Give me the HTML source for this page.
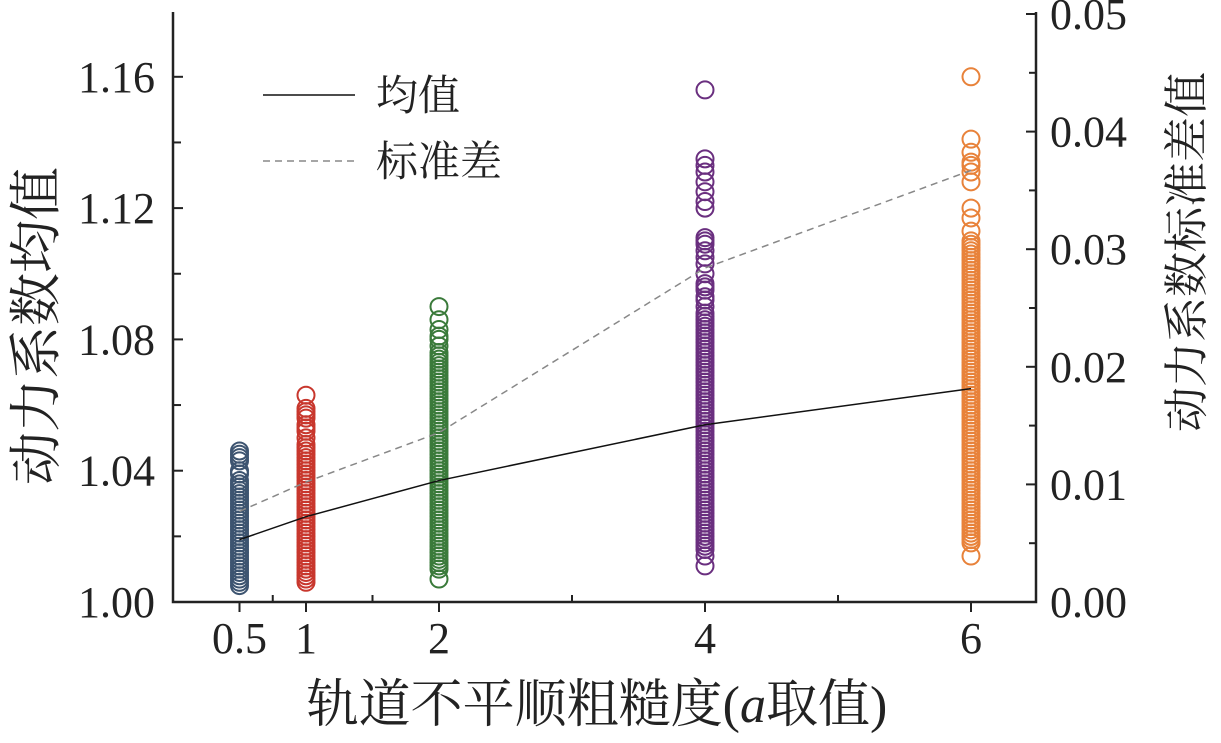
<!DOCTYPE html>
<html><head><meta charset="utf-8"><style>
html,body{margin:0;padding:0;background:#fff;}
svg text{font-family:"Liberation Serif","Noto Serif CJK SC",serif;fill:#222;}
</style></head><body>
<svg id="chart" width="1221" height="738" xmlns="http://www.w3.org/2000/svg">
<g id="marks"></g>
<g id="lines"></g>
<g id="axes"></g>
<g>
<line x1="263" y1="95" x2="355" y2="95" stroke="#111" stroke-width="1.5"/>
<text x="376" y="110" font-size="42">均值</text>
<line x1="263" y1="161" x2="355" y2="161" stroke="#888" stroke-width="1.5" stroke-dasharray="7,5"/>
<text x="376" y="176" font-size="42">标准差</text>
</g>
<text x="597" y="722" font-size="52" text-anchor="middle">轨道不平顺粗糙度(<tspan font-style="italic">a</tspan>取值)</text>
<text transform="translate(54,326) rotate(-90)" font-size="53" text-anchor="middle">动力系数均值</text>
<text transform="translate(1202,252) rotate(-90)" font-size="45" text-anchor="middle">动力系数标准差值</text>
</svg>
<script>
const categories=[0.5,1,2,4,6];
const colors=["#3d5470","#c8372d","#3a7a3a","#6a2f7f","#e8823a"];
const meanValues=[1.019,1.026,1.037,1.054,1.065];
const stdValues=[0.0077,0.0102,0.0144,0.0284,0.0367];
const xTicksMajor=[0.5,1,2,4,6];
const xTicksMinor=[0.75,1.5,3,5];
const yLeftTicks=[1.00,1.04,1.08,1.12,1.16];
const yLeftMinor=[1.02,1.06,1.10,1.14];
const yRightTicks=[0.00,0.01,0.02,0.03,0.04,0.05];
const yRightMinor=[0.005,0.015,0.025,0.035,0.045];
const g05=[1.005,1.006,1.007,1.008,1.009,1.010,1.011,1.012,1.013,1.014,1.015,1.016,1.017,1.018,1.019,1.020,1.021,1.022,1.023,1.024,1.025,1.026,1.027,1.028,1.029,1.030,1.031,1.032,1.033,1.034,1.035,1.036,1.037,1.039,1.040,1.043,1.044,1.045,1.046];
const g1=[1.006,1.007,1.008,1.009,1.010,1.011,1.012,1.013,1.014,1.015,1.016,1.017,1.018,1.019,1.020,1.021,1.022,1.023,1.024,1.025,1.026,1.027,1.028,1.029,1.030,1.031,1.032,1.033,1.034,1.035,1.036,1.037,1.038,1.039,1.040,1.041,1.042,1.043,1.044,1.045,1.046,1.047,1.048,1.050,1.052,1.053,1.054,1.056,1.057,1.058,1.059,1.063];
const g2=[1.007,1.010,1.011,1.012,1.013,1.014,1.015,1.016,1.017,1.018,1.019,1.020,1.021,1.022,1.023,1.024,1.025,1.026,1.027,1.028,1.029,1.030,1.031,1.032,1.033,1.034,1.035,1.036,1.037,1.038,1.039,1.040,1.041,1.042,1.043,1.044,1.045,1.046,1.047,1.048,1.049,1.050,1.051,1.052,1.053,1.054,1.055,1.056,1.057,1.058,1.059,1.060,1.061,1.062,1.063,1.064,1.065,1.066,1.067,1.068,1.069,1.070,1.071,1.072,1.073,1.074,1.075,1.076,1.078,1.080,1.081,1.083,1.086,1.090];
const g4=[1.011,1.014,1.016,1.017,1.018,1.019,1.020,1.021,1.022,1.023,1.024,1.025,1.026,1.027,1.028,1.029,1.030,1.031,1.032,1.033,1.034,1.035,1.036,1.037,1.038,1.039,1.040,1.041,1.042,1.043,1.044,1.045,1.046,1.047,1.048,1.049,1.050,1.051,1.052,1.053,1.054,1.055,1.056,1.057,1.058,1.059,1.060,1.061,1.062,1.063,1.064,1.065,1.066,1.067,1.068,1.069,1.070,1.071,1.072,1.073,1.074,1.075,1.076,1.077,1.078,1.079,1.080,1.081,1.082,1.083,1.084,1.085,1.086,1.087,1.088,1.090,1.092,1.093,1.095,1.096,1.097,1.100,1.103,1.105,1.107,1.109,1.110,1.111,1.120,1.122,1.125,1.128,1.131,1.133,1.135,1.156];
const g6=[1.014,1.018,1.019,1.020,1.021,1.022,1.023,1.024,1.025,1.026,1.027,1.028,1.029,1.030,1.031,1.032,1.033,1.034,1.035,1.036,1.037,1.038,1.039,1.040,1.041,1.042,1.043,1.044,1.045,1.046,1.047,1.048,1.049,1.050,1.051,1.052,1.053,1.054,1.055,1.056,1.057,1.058,1.059,1.060,1.061,1.062,1.063,1.064,1.065,1.066,1.067,1.068,1.069,1.070,1.071,1.072,1.073,1.074,1.075,1.076,1.077,1.078,1.079,1.080,1.081,1.082,1.083,1.084,1.085,1.086,1.087,1.088,1.089,1.090,1.091,1.092,1.093,1.094,1.095,1.096,1.097,1.098,1.099,1.100,1.101,1.102,1.103,1.104,1.105,1.106,1.107,1.108,1.109,1.110,1.113,1.117,1.120,1.128,1.131,1.133,1.134,1.137,1.141,1.160];
const groups=[g05,g1,g2,g4,g6];

const NS="http://www.w3.org/2000/svg";
const X0=173,XR=1036,YB=602,YT=12;
const xs=v=>X0+v*133;
const yL=v=>YB-(v-1)*(131.3/0.04);
const yR=v=>YB-v*(117.6/0.01);
function mk(tag,attrs,parent){const e=document.createElementNS(NS,tag);for(const k in attrs)e.setAttribute(k,attrs[k]);parent.appendChild(e);return e;}
const marks=document.getElementById('marks'),lines=document.getElementById('lines'),axes=document.getElementById('axes');
groups.forEach((arr,gi)=>{arr.forEach(v=>{
  const c=mk('circle',{cx:xs(categories[gi]),cy:yL(v),r:8.5,fill:'none',stroke:colors[gi],'stroke-width':2},marks);
  
  
});});
const mp=mk('polyline',{points:categories.map((c,i)=>xs(c)+','+yL(meanValues[i])).join(' '),fill:'none',stroke:'#111','stroke-width':1.5},lines);


const sp=mk('polyline',{points:categories.map((c,i)=>xs(c)+','+yR(stdValues[i])).join(' '),fill:'none',stroke:'#888','stroke-width':1.5,'stroke-dasharray':'7,5'},lines);


const al=mk('path',{d:`M${X0},${YT}V${YB}H${XR}V${YT}`,fill:'none',stroke:'#222','stroke-width':2.5},axes);


xTicksMajor.forEach(v=>{
  mk('line',{x1:xs(v),x2:xs(v),y1:YB,y2:YB+10,stroke:'#222','stroke-width':2},axes);
  const t=mk('text',{x:xs(v),y:653,'font-size':44,'text-anchor':'middle'},axes);t.textContent=String(v);
  
  
});
xTicksMinor.forEach(v=>mk('line',{x1:xs(v),x2:xs(v),y1:YB,y2:YB-7,stroke:'#222','stroke-width':2},axes));
yLeftTicks.forEach(v=>{
  mk('line',{x1:X0,x2:X0+10,y1:yL(v),y2:yL(v),stroke:'#222','stroke-width':2},axes);
  const t=mk('text',{x:155,y:yL(v)+15,'font-size':44,'text-anchor':'end'},axes);t.textContent=v.toFixed(2);
  
  
});
yLeftMinor.forEach(v=>mk('line',{x1:X0,x2:X0+8,y1:yL(v),y2:yL(v),stroke:'#222','stroke-width':2},axes));
yRightTicks.forEach(v=>{
  mk('line',{x1:XR,x2:XR-10,y1:yR(v),y2:yR(v),stroke:'#222','stroke-width':2},axes);
  const t=mk('text',{x:1050,y:yR(v)+15,'font-size':44},axes);t.textContent=v.toFixed(2);
  
  
});
yRightMinor.forEach(v=>mk('line',{x1:XR,x2:XR-7,y1:yR(v),y2:yR(v),stroke:'#222','stroke-width':2},axes));
</script>
</body></html>
